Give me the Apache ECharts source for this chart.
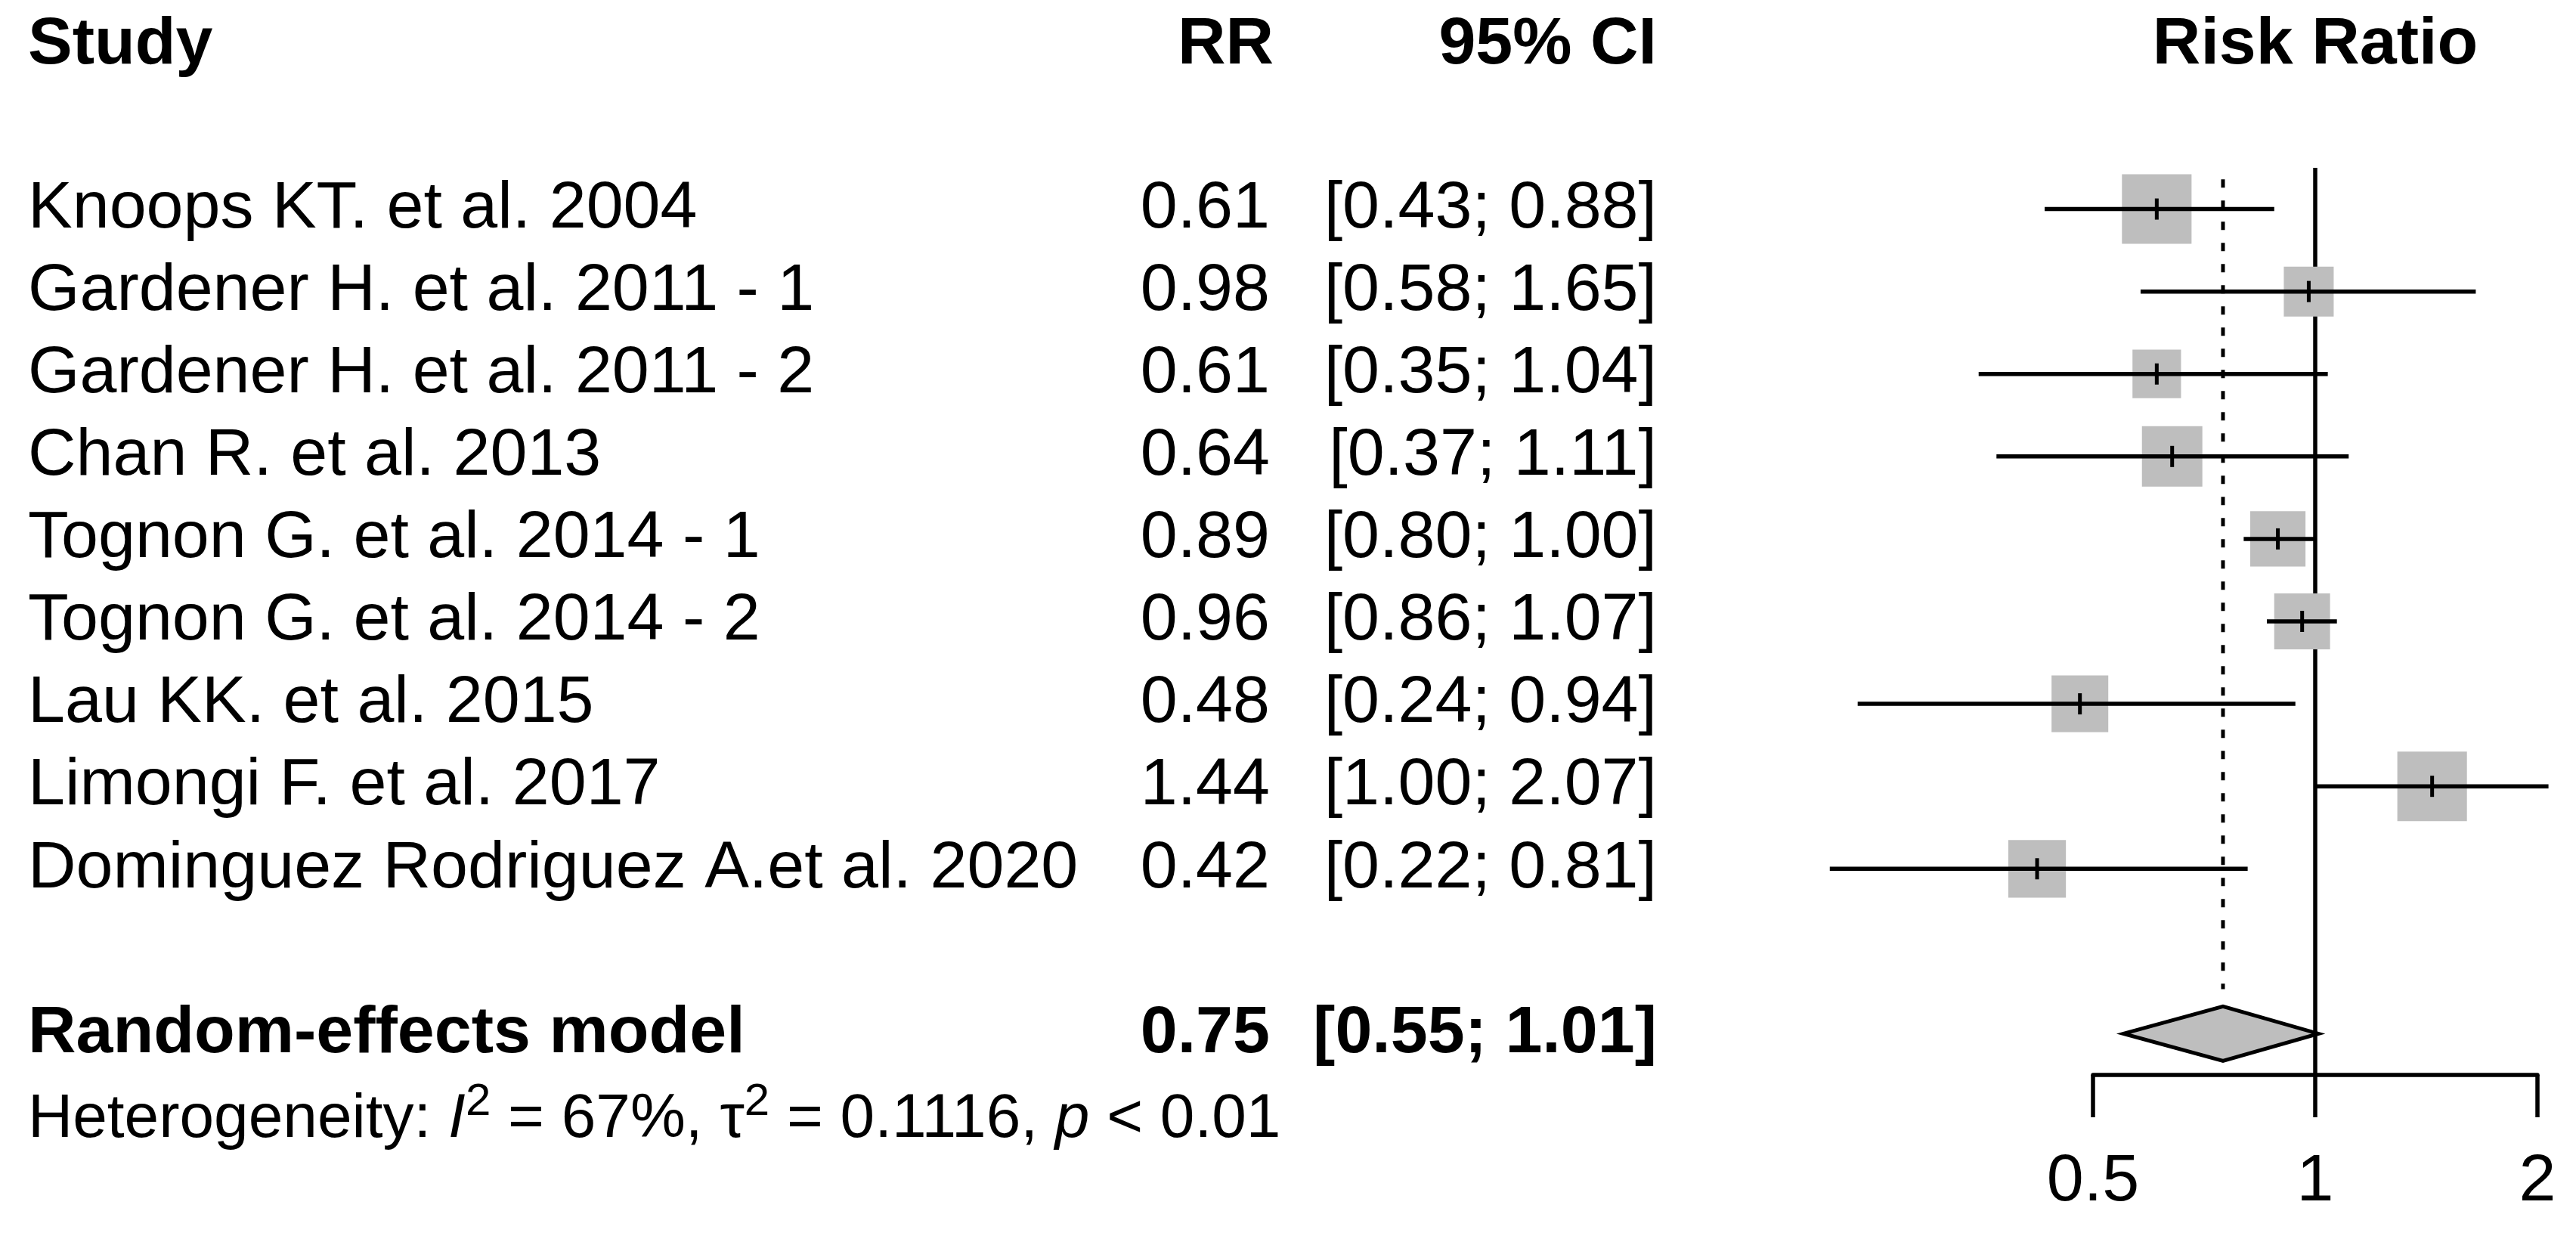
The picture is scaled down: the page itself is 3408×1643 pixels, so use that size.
<!DOCTYPE html>
<html><head><meta charset="utf-8">
<script src="https://cdn.jsdelivr.net/npm/echarts@6/dist/echarts.min.js"></script>
<style>html,body{margin:0;padding:0;background:#fff}#c{width:3408px;height:1643px}</style>
</head><body><div id="c"></div>
<script>
// ---- data ----
const studies = ['Knoops KT. et al. 2004','Gardener H. et al. 2011 - 1','Gardener H. et al. 2011 - 2','Chan R. et al. 2013','Tognon G. et al. 2014 - 1','Tognon G. et al. 2014 - 2','Lau KK. et al. 2015','Limongi F. et al. 2017','Dominguez Rodriguez A.et al. 2020'];
const rr      = [0.61, 0.98, 0.61, 0.64, 0.89, 0.96, 0.48, 1.44, 0.42];
const ciLow   = [0.43, 0.58, 0.35, 0.37, 0.80, 0.86, 0.24, 1.00, 0.22];
const ciHigh  = [0.88, 1.65, 1.04, 1.11, 1.00, 1.07, 0.94, 2.07, 0.81];
const weights = [14.6, 7.5, 7.1, 11.0, 9.2, 9.4, 9.7, 14.6, 10.0];
const pooledLabel = 'Random-effects model';
const pooledRR = 0.75, pooledLow = 0.55, pooledHigh = 1.01;
const xTicks = [0.5, 1, 2];
const hetI2 = '67%', hetTau2 = '0.1116', hetP = '< 0.01';
const headers = ['Study', 'RR', '95% CI', 'Risk Ratio'];

// ---- layout / style ----
const FONT = 'Liberation Sans, Arial, sans-serif';
const FS = 88;
const X_STUDY = 37, X_RR = 1680, X_CI = 2192;
const LW = 5.5;
const GRAY = '#bebebe';
const SQ_K = 24.1;

const studyData = studies.map((s, i) => [rr[i], ciLow[i], ciHigh[i], i, weights[i]]);
const pooledRow = studies.length + 1;

function txt(x, y, text, align, bold, size) {
  return {type: 'text', style: {x: x, y: y, text: text, align: align, verticalAlign: 'middle',
    fontFamily: FONT, fontSize: size || FS, fontWeight: bold ? 'bold' : 'normal', fill: '#000'}};
}
const fmt = v => v.toFixed(2);

const chart = echarts.init(document.getElementById('c'), null, {renderer: 'canvas'});
chart.setOption({
  backgroundColor: '#fff',
  animation: false,
  grid: {left: 2769, right: 51, top: 222, bottom: 221, containLabel: false},
  xAxis: {
    type: 'log', logBase: 2, min: xTicks[0], max: xTicks[xTicks.length - 1], position: 'bottom',
    axisLine: {show: true, onZero: false, lineStyle: {color: '#000', width: LW}},
    axisTick: {show: true, inside: false, length: 56, lineStyle: {color: '#000', width: LW}},
    axisLabel: {show: true, margin: 98, fontSize: FS, fontFamily: FONT, color: '#000',
      formatter: v => { const t = xTicks.find(k => Math.abs(k - v) < 1e-6); return t === undefined ? '' : String(t); }},
    splitLine: {show: false}
  },
  yAxis: {type: 'value', inverse: true, min: -0.5, max: pooledRow + 0.5, show: false},
  graphic: [
    txt(X_STUDY, 60, headers[0], 'left', true),
    txt(1685, 60, headers[1], 'right', true),
    txt(X_CI, 60, headers[2], 'right', true),
    txt(3063, 60, headers[3], 'center', true),
    {type: 'text', style: {x: X_STUDY, y: 1481, verticalAlign: 'middle', align: 'left',
      text: 'Heterogeneity: {it|I}{sup|2} = ' + hetI2 + ', τ{sup|2} = ' + hetTau2 + ', {it|p} ' + hetP,
      fontFamily: FONT, fontSize: 82, fill: '#000',
      rich: {
        it: {fontFamily: FONT, fontSize: 82, fontStyle: 'italic', fill: '#000'},
        sup: {fontFamily: FONT, fontSize: 60, fill: '#000', padding: [0, 0, 46, 0]}
      }}}
  ],
  series: [
    {type: 'line', data: [[1, -0.5], [1, pooledRow + 0.5]], symbol: 'none', silent: true, clip: false,
      lineStyle: {color: '#000', width: LW}, z: 1},
    {type: 'line', data: [[pooledRR, -0.36], [pooledRR, pooledRow - 0.54]], symbol: 'none', silent: true, clip: false,
      lineStyle: {color: '#000', width: 5, type: [11, 17]}, z: 1},
    {
      type: 'custom', clip: false, z: 3,
      encode: {x: [0, 1, 2], y: 3},
      data: studyData,
      renderItem: function (params, api) {
        const e = api.value(0), lo = api.value(1), hi = api.value(2), row = api.value(3), w = api.value(4);
        const pe = api.coord([e, row]);
        const pl = api.coord([lo, row]);
        const ph = api.coord([hi, row]);
        const side = SQ_K * Math.sqrt(w);
        const i = params.dataIndex;
        return {type: 'group', children: [
          {type: 'rect', shape: {x: pe[0] - side / 2, y: pe[1] - side / 2, width: side, height: side}, style: {fill: GRAY}},
          {type: 'line', shape: {x1: pl[0], y1: pl[1], x2: ph[0], y2: ph[1]}, style: {stroke: '#000', lineWidth: LW}},
          {type: 'line', shape: {x1: pe[0], y1: pe[1] - 14, x2: pe[0], y2: pe[1] + 14}, style: {stroke: '#000', lineWidth: 5}},
          txt(X_STUDY, pe[1], studies[i], 'left', false),
          txt(X_RR, pe[1], fmt(e), 'right', false),
          txt(X_CI, pe[1], '[' + fmt(lo) + '; ' + fmt(hi) + ']', 'right', false)
        ]};
      }
    },
    {
      type: 'custom', clip: false, z: 3,
      encode: {x: [0, 1, 2], y: 3},
      data: [[pooledRR, pooledLow, pooledHigh, pooledRow]],
      renderItem: function (params, api) {
        const e = api.value(0), lo = api.value(1), hi = api.value(2), row = api.value(3);
        const c = api.coord([e, row]);
        const t = api.coord([e, row - 0.33]);
        const b = api.coord([e, row + 0.33]);
        const l = api.coord([lo, row]);
        const r = api.coord([hi, row]);
        return {type: 'group', children: [
          {type: 'polygon', shape: {points: [[l[0], c[1]], [t[0], t[1]], [r[0], c[1]], [b[0], b[1]]]},
            style: {fill: GRAY, stroke: '#000', lineWidth: 5, lineJoin: 'miter'}},
          txt(X_STUDY, c[1], pooledLabel, 'left', true),
          txt(X_RR, c[1], fmt(e), 'right', true),
          txt(X_CI, c[1], '[' + fmt(lo) + '; ' + fmt(hi) + ']', 'right', true)
        ]};
      }
    }
  ]
});
</script>
</body></html>
